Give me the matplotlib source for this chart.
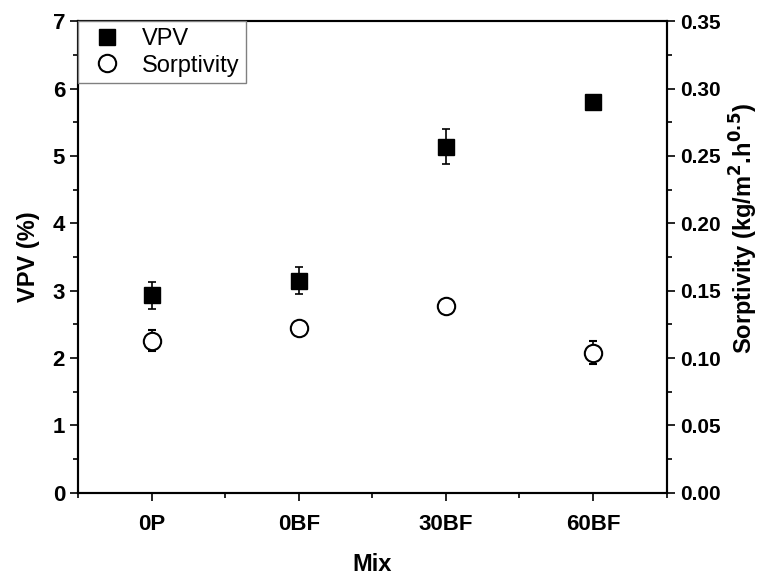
import numpy as np
import matplotlib.pyplot as plt
from matplotlib.ticker import MultipleLocator

plt.rcParams['font.family'] = ['Liberation Sans', 'DejaVu Sans']

mixes = ['0P', '0BF', '30BF', '60BF']
vpv = [2.93, 3.15, 5.14, 5.80]
vpv_err = [0.20, 0.20, 0.26, 0.05]
sorp = [0.113, 0.1225, 0.1385, 0.104]
sorp_err = [0.008, 0.001, 0.004, 0.0085]

x = np.arange(1, len(mixes) + 1)

fig = plt.figure(figsize=(7.6, 5.75), dpi=100)
ax1 = fig.add_axes([0.103, 0.143, 0.774, 0.820])
ax2 = ax1.twinx()

h1 = ax1.errorbar(x, vpv, yerr=vpv_err, fmt='s', ms=12, mfc='black', mec='black',
                  ecolor='black', elinewidth=1.2, capsize=3.2, capthick=1.2,
                  label='VPV', zorder=3)
h2 = ax2.errorbar(x, sorp, yerr=sorp_err, fmt='o', ms=12.5, mfc='white', mec='black',
                  mew=1.5, ecolor='black', elinewidth=1.2, capsize=3.2, capthick=1.2,
                  label='Sorptivity', zorder=3)

ax1.set_xlim(0.5, 4.5)
ax1.set_ylim(0, 7)
ax2.set_ylim(0, 0.35)
ax1.set_xticks(x)
ax1.set_xticklabels(mixes)
ax1.xaxis.set_minor_locator(MultipleLocator(0.5))
ax1.yaxis.set_major_locator(MultipleLocator(1))
ax1.yaxis.set_minor_locator(MultipleLocator(0.5))
ax2.yaxis.set_major_locator(MultipleLocator(0.05))
ax2.yaxis.set_minor_locator(MultipleLocator(0.025))
ax2.yaxis.set_major_formatter(plt.FormatStrFormatter('%.2f'))

for ax in (ax1, ax2):
    for s in ax.spines.values():
        s.set_linewidth(1.5)
    ax.tick_params(which='major', direction='out', length=6, width=1.2)
    ax.tick_params(which='minor', direction='out', length=3.5, width=1.2)
ax1.tick_params(axis='both', labelsize=16)
ax2.tick_params(axis='y', labelsize=15)
ax1.tick_params(axis='x', pad=9)
for lab in ax1.get_yticklabels() + ax1.get_xticklabels() + ax2.get_yticklabels():
    lab.set_fontweight('bold')

ax1.set_xlabel('Mix', fontsize=17, fontweight='bold', labelpad=13)
ax1.set_ylabel('VPV (%)', fontsize=17, fontweight='bold', labelpad=9)
ax2.set_ylabel('Sorptivity (kg/m$^\\mathbf{2}$.h$^\\mathbf{0.5}$)', fontsize=17,
               fontweight='bold')
ax2.yaxis.set_label_coords(1.104, 0.56)

leg = ax2.legend([h1[0], h2[0]], ['VPV', 'Sorptivity'], loc='upper left',
                 bbox_to_anchor=(0, 1), borderaxespad=0, fancybox=False,
                 fontsize=17, edgecolor='gray', framealpha=1,
                 handletextpad=0.5, borderpad=0.28, labelspacing=0.2,
                 handlelength=1.9)
leg.get_frame().set_linewidth(1.0)

plt.savefig('out.png', dpi=100)
